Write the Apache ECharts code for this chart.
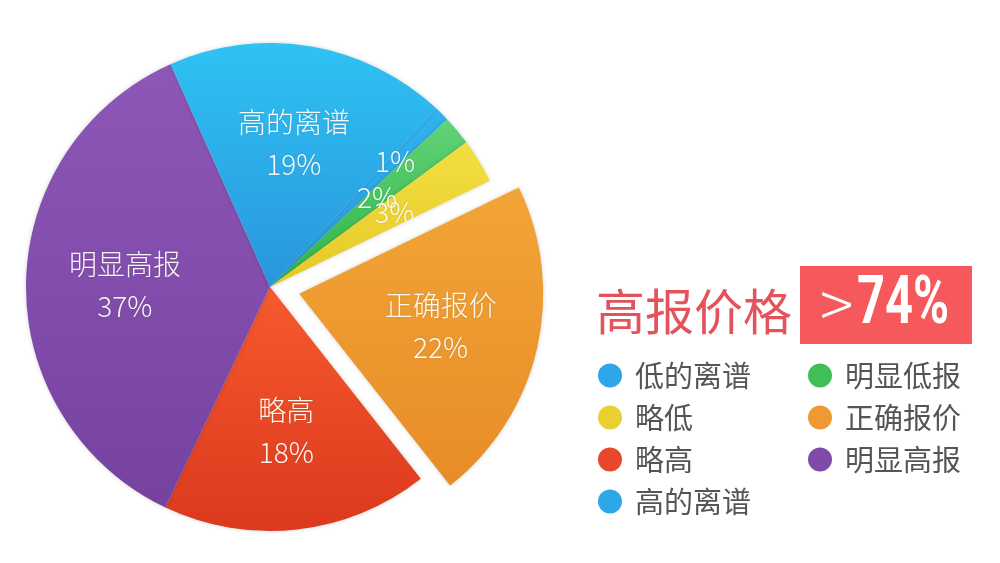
<!DOCTYPE html>
<html>
<head>
<meta charset="utf-8">
<script src="https://cdn.jsdelivr.net/npm/echarts@6/dist/echarts.min.js"></script>
<style>
html,body{margin:0;padding:0;background:#fff;}
#main{width:1000px;height:563px;}
</style>
</head>
<body>
<div id="main"></div>
<script>
// ---- data ----
var categories = ['低的离谱', '明显低报', '略低', '正确报价', '略高', '明显高报', '高的离谱'];
var values = [1, 2, 3, 22, 18, 37, 19];
var legendLeftNames = ['低的离谱', '略低', '略高', '高的离谱'];
var legendRightNames = ['明显低报', '正确报价', '明显高报'];
var titleText = '高报价格';
var highlightText = '74%';
var explodedName = '正确报价';

// ---- styles ----
var colorStops = {
  '低的离谱': ['#2fb4f0', '#2a9be0'],
  '明显低报': ['#62d277', '#2eb446'],
  '略低': ['#f3df42', '#e6c826'],
  '正确报价': ['#f2a537', '#e88c27'],
  '略高': ['#f65a2e', '#dc391d'],
  '明显高报': ['#8d57b7', '#7642a0'],
  '高的离谱': ['#2ec3f3', '#2a95dd']
};
var legendColors = {
  '低的离谱': '#2ea6ea', '明显低报': '#3fbf55', '略低': '#e8d030', '正确报价': '#ee9a30',
  '略高': '#e9472a', '明显高报': '#7f4aa9', '高的离谱': '#2ea6ea'
};
var CX = 270, CY = 287, R = 244, OFFSET = 30;
var labelFont = '"Noto Sans CJK SC", "Noto Sans", sans-serif';

function grad(name) {
  var c = colorStops[name];
  return new echarts.graphic.LinearGradient(0, 0, 0, 1, [
    { offset: 0, color: c[0] }, { offset: 1, color: c[1] }
  ]);
}

function makeData(showFn, withColor) {
  return categories.map(function (n, i) {
    var d = { name: n, value: values[i], selected: n === explodedName };
    if (withColor) d.itemStyle = { color: grad(n) };
    else d.label = { show: showFn(n) };
    return d;
  });
}

function labelFormatter(p) {
  if (p.value < 5) return p.value + '%';
  return p.name + '\n' + p.value + '%';
}

var labelStyle = {
  position: 'inside',
  formatter: labelFormatter,
  color: 'rgba(255,255,250,0.95)',
  fontSize: 28,
  fontWeight: 300,
  lineHeight: 42,
  fontFamily: labelFont,
  textShadowColor: 'rgba(0,0,0,0.15)',
  textShadowBlur: 2
};

function labelSeries(radiusFactor, showFn) {
  return {
    type: 'pie',
    center: [CX, CY],
    radius: [0, R * radiusFactor],
    startAngle: 47,
    clockwise: true,
    selectedMode: 'single',
    selectedOffset: OFFSET,
    avoidLabelOverlap: false,
    silent: true,
    itemStyle: { color: 'rgba(0,0,0,0)' },
    label: labelStyle,
    labelLine: { show: false },
    labelLayout: { hideOverlap: false },
    emphasis: { disabled: true },
    data: makeData(showFn, false)
  };
}

var chart = echarts.init(document.getElementById('main'));
function legendCfg(names, left) {
  return {
    orient: 'vertical',
    left: left,
    top: 356,
    itemWidth: 24,
    itemHeight: 24,
    itemGap: 13,
    icon: 'circle',
    selectedMode: false,
    data: names.map(function (n) { return { name: n, itemStyle: { color: legendColors[n] } }; }),
    textStyle: {
      fontSize: 29,
      lineHeight: 29,
      color: '#555',
      fontFamily: labelFont,
      padding: [0, 0, 0, 8]
    }
  };
}

chart.setOption({
  animation: false,
  backgroundColor: '#fff',
  legend: [legendCfg(legendLeftNames, 593), legendCfg(legendRightNames, 803)],
  graphic: [
    {
      type: 'text', left: 596, top: 287,
      style: { text: titleText, fontSize: 49, fill: '#e4535c', fontFamily: labelFont }
    },
    {
      type: 'rect', shape: { x: 800, y: 266, width: 172, height: 78 },
      style: { fill: '#f5595b' }
    },
    {
      type: 'text', x: 820, y: 304,
      style: { text: '>', fontSize: 62, fill: '#fff', fontFamily: '"Noto Sans CJK SC", sans-serif', fontWeight: 300, verticalAlign: 'middle' }
    },
    {
      type: 'text', x: 857, y: 306, scaleX: 0.74, scaleY: 1,
      style: { text: highlightText, fontSize: 66, fontWeight: 'bold', fill: '#fff', fontFamily: 'Roboto, sans-serif', verticalAlign: 'middle' }
    }
  ],
  series: [
    {
      type: 'pie',
      center: [CX, CY],
      radius: [0, R],
      startAngle: 47,
      clockwise: true,
      selectedMode: 'single',
      selectedOffset: OFFSET,
      avoidLabelOverlap: false,
      silent: true,
      label: { show: false },
      labelLine: { show: false },
      itemStyle: { shadowBlur: 4, shadowColor: 'rgba(0,0,0,0.18)' },
      emphasis: { disabled: true },
      data: makeData(null, true)
    },
    labelSeries(1.165, function (n) { return n !== '低的离谱' && n !== '明显低报'; }),
    labelSeries(1.12, function (n) { return n === '明显低报'; }),
    labelSeries(1.43, function (n) { return n === '低的离谱'; })
  ]
});
</script>
</body>
</html>
